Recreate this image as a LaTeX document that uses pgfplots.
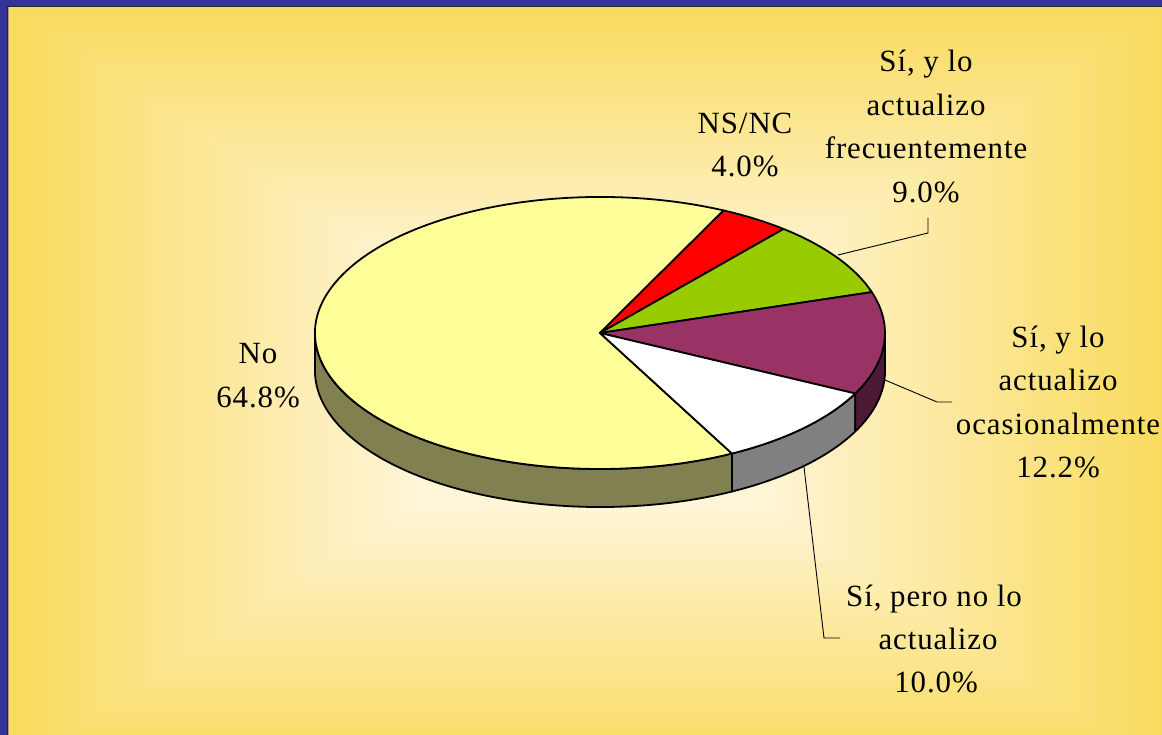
\documentclass[border=0pt]{standalone}
\usepackage{pgfplots}
\pgfplotsset{compat=1.18}
\usepackage{pgfplotstable}
\usepackage{fontspec}
\setmainfont{Liberation Serif}[LetterSpace=3]
\definecolor{bordblue}{HTML}{333399}
\definecolor{bgedge}{HTML}{F9DB5E}
\definecolor{bgcenter}{HTML}{FFF5D8}
\definecolor{noTop}{HTML}{FFFF99}
\definecolor{noSide}{HTML}{808050}
\definecolor{nsnc}{HTML}{FF0000}
\definecolor{frec}{HTML}{99CC00}
\definecolor{ocas}{HTML}{993366}
\definecolor{ocasSide}{HTML}{4D1A33}
\definecolor{peroSide}{HTML}{808080}

\pgfplotstableread{
label value
NSNC 4.0
Frecuente 9.0
Ocasional 12.2
PeroNo 10.0
No 64.8
}\piedata

\newcommand\lbl{\fontsize{31}{40}\selectfont}

\begin{document}
\begin{tikzpicture}
% ---- data -> angles
\pgfplotstablegetelem{0}{value}\of\piedata \let\vA\pgfplotsretval
\pgfplotstablegetelem{1}{value}\of\piedata \let\vB\pgfplotsretval
\pgfplotstablegetelem{2}{value}\of\piedata \let\vC\pgfplotsretval
\pgfplotstablegetelem{3}{value}\of\piedata \let\vD\pgfplotsretval
\pgfplotstablegetelem{4}{value}\of\piedata \let\vE\pgfplotsretval
\pgfmathsetmacro\tA{64.3}
\pgfmathsetmacro\tB{\tA-3.6*\vA}
\pgfmathsetmacro\tC{\tB-3.6*\vB}
\pgfmathsetmacro\tD{\tC-3.6*\vC}
\pgfmathsetmacro\tE{\tD-3.6*\vD}
\pgfmathsetmacro\tEp{\tE+360}
\def\cx{600}\def\cy{402}\def\dep{38}
\pgfmathsetmacro\xA{\cx+285*cos(\tA)}\pgfmathsetmacro\yA{\cy+136*sin(\tA)}
\pgfmathsetmacro\xB{\cx+285*cos(\tB)}\pgfmathsetmacro\yB{\cy+136*sin(\tB)}
\pgfmathsetmacro\xC{\cx+285*cos(\tC)}\pgfmathsetmacro\yC{\cy+136*sin(\tC)}
\pgfmathsetmacro\xD{\cx+285*cos(\tD)}\pgfmathsetmacro\yD{\cy+136*sin(\tD)}
\pgfmathsetmacro\xE{\cx+285*cos(\tE)}\pgfmathsetmacro\yE{\cy+136*sin(\tE)}
\pgfmathsetmacro\yDd{\yD-\dep}
\pgfmathsetmacro\yEd{\yE-\dep}
\pgfmathsetmacro\yCd{\cy-\dep}
% ---- background
\begin{scope}[x=1bp,y=1bp]
\fill[bordblue] (0,0) rectangle (1162,735);
\begin{scope}
\clip (8.3,-5) rectangle (1170,727.6);
\fill[bgedge] (0,-10) rectangle (1170,740);
\foreach \k in {1,...,40}{
  \pgfmathsetmacro\tt{1-\k/40}
  \pgfmathsetmacro\pp{max(0,min(100,100*(\tt-0.3)/0.7))}
  \pgfmathsetmacro\hx{580*\tt}
  \pgfmathsetmacro\hy{385*\tt}
  \fill[bgedge!\pp!bgcenter] (588-\hx,345-\hy) rectangle (588+\hx,345+\hy);
}
\end{scope}
\draw[line width=1.3bp,black!85] (7.8,-5) -- (7.8,728.2) -- (1170,728.2);
\end{scope}

\begin{axis}[at={(0,0)}, anchor=south west, scale only axis,
  width=1162bp, height=735bp, xmin=0, xmax=1162, ymin=0, ymax=735,
  hide axis, clip=false]
\tikzset{pe/.style={draw=black, line width=1.8bp, line join=round}}
% sides
\filldraw[pe, fill=noSide] (axis cs:315,\cy) arc[start angle=180, end angle=\tEp, x radius=285bp, y radius=136bp]
  -- (axis cs:\xE,\yEd) arc[start angle=\tEp, end angle=180, x radius=285bp, y radius=136bp] -- cycle;
\filldraw[pe, fill=peroSide] (axis cs:\xE,\yE) arc[start angle=\tE, end angle=\tD, x radius=285bp, y radius=136bp]
  -- (axis cs:\xD,\yDd) arc[start angle=\tD, end angle=\tE, x radius=285bp, y radius=136bp] -- cycle;
\filldraw[pe, fill=ocasSide] (axis cs:\xD,\yD) arc[start angle=\tD, end angle=0, x radius=285bp, y radius=136bp]
  -- (axis cs:885,\yCd) arc[start angle=0, end angle=\tD, x radius=285bp, y radius=136bp] -- cycle;
% tops
\filldraw[pe, fill=noTop] (axis cs:\cx,\cy) -- (axis cs:\xA,\yA) arc[start angle=\tA, end angle=\tEp, x radius=285bp, y radius=136bp] -- cycle;
\filldraw[pe, fill=nsnc] (axis cs:\cx,\cy) -- (axis cs:\xA,\yA) arc[start angle=\tA, end angle=\tB, x radius=285bp, y radius=136bp] -- cycle;
\filldraw[pe, fill=frec] (axis cs:\cx,\cy) -- (axis cs:\xB,\yB) arc[start angle=\tB, end angle=\tC, x radius=285bp, y radius=136bp] -- cycle;
\filldraw[pe, fill=ocas] (axis cs:\cx,\cy) -- (axis cs:\xC,\yC) arc[start angle=\tC, end angle=\tD, x radius=285bp, y radius=136bp] -- cycle;
\filldraw[pe, fill=white] (axis cs:\cx,\cy) -- (axis cs:\xD,\yD) arc[start angle=\tD, end angle=\tE, x radius=285bp, y radius=136bp] -- cycle;
% leader lines
\draw[line width=0.9bp] (axis cs:838,480) -- (axis cs:928,502) -- (axis cs:928,517);
\draw[line width=0.9bp] (axis cs:885,355) -- (axis cs:937,333) -- (axis cs:952,333);
\draw[line width=0.9bp] (axis cs:804,268) -- (axis cs:824,97) -- (axis cs:840,97);
% labels
\node[anchor=base, inner sep=0pt, font=\lbl] at (axis cs:745,601) {NS/NC};
\node[anchor=base, inner sep=0pt, font=\lbl] at (axis cs:745,558) {4.0\%};
\node[anchor=base, inner sep=0pt, font=\lbl] at (axis cs:926,663) {Sí, y lo};
\node[anchor=base, inner sep=0pt, font=\lbl] at (axis cs:926,619.5) {actualizo};
\node[anchor=base, inner sep=0pt, font=\lbl] at (axis cs:926,576) {frecuentemente};
\node[anchor=base, inner sep=0pt, font=\lbl] at (axis cs:926,532.5) {9.0\%};
\node[anchor=base, inner sep=0pt, font=\lbl] at (axis cs:1058,387) {Sí, y lo};
\node[anchor=base, inner sep=0pt, font=\lbl] at (axis cs:1058,344) {actualizo};
\node[anchor=base, inner sep=0pt, font=\lbl] at (axis cs:1058,300) {ocasionalmente};
\node[anchor=base, inner sep=0pt, font=\lbl] at (axis cs:1058,257) {12.2\%};
\node[anchor=base, inner sep=0pt, font=\lbl] at (axis cs:934,128) {Sí, pero no lo};
\node[anchor=base, inner sep=0pt, font=\lbl] at (axis cs:938,85) {actualizo};
\node[anchor=base, inner sep=0pt, font=\lbl] at (axis cs:936,42) {10.0\%};
\node[anchor=base, inner sep=0pt, font=\lbl] at (axis cs:258,371) {No};
\node[anchor=base, inner sep=0pt, font=\lbl] at (axis cs:258,327) {64.8\%};
\end{axis}
\pgfresetboundingbox
\path (0,0) rectangle (1162bp,735bp);
\end{tikzpicture}
\end{document}
